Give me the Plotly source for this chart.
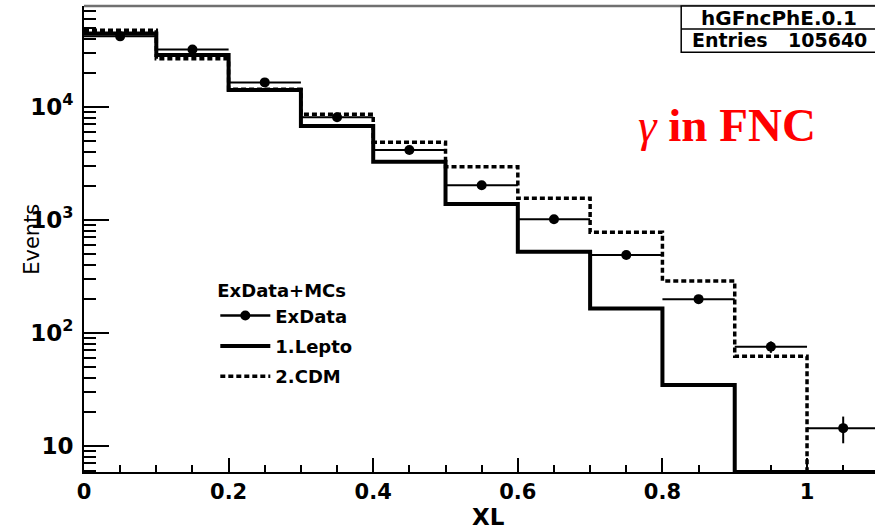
import plotly.graph_objects as go
import math

# ---- data ----
bin_edges = [0.0, 0.1, 0.2, 0.3, 0.4, 0.5, 0.6, 0.7, 0.8, 0.9, 1.0, 1.1]
bin_centers = [0.05, 0.15, 0.25, 0.35, 0.45, 0.55, 0.65, 0.75, 0.85, 0.95, 1.05]
exdata = [41900, 32100, 16400, 8060, 4140, 2015, 1008, 487, 198, 75, 14.3]
exdata_err = [205, 180, 128, 90, 64, 45, 32, 22, 14, 8.7, 3.8]
lepto = [44500, 28700, 14050, 6750, 3260, 1377, 521, 164, 34.4, 0, 0]
cdm = [47500, 26500, 14300, 8570, 4850, 2945, 1545, 774, 287, 62, 0]

legend_title = "ExData+MCs"
names = ["ExData", "1.Lepto", "2.CDM"]
x_tick_vals = [0, 0.2, 0.4, 0.6, 0.8, 1.0]
x_tick_text = ["0", "0.2", "0.4", "0.6", "0.8", "1"]
y_tick_vals = [10, 100, 1000, 10000]
y_tick_text = ["10", "10<sup>2</sup>", "10<sup>3</sup>", "10<sup>4</sup>"]
hist_name = "hGFncPhE.0.1"
entries = "105640"

# ---- axis ranges ----
x_range = [0, 1.094]
y_range = [math.log10(5.85), math.log10(77800)]
y_floor = 10 ** y_range[0]

def step_y(vals):
    v = [val if val > 0 else y_floor for val in vals]
    return v + [v[-1]]

minor_y = [m * 10 ** k for k in range(0, 5) for m in range(2, 10)]

FONT = "DejaVu Sans"
fig = go.Figure()

fig.add_trace(go.Scatter(
    x=bin_edges, y=step_y(lepto), mode="lines", line_shape="hv",
    line=dict(color="black", width=4), name=names[1], legendrank=2, legendgroup="g2",
))
fig.add_trace(go.Scatter(
    x=bin_edges, y=step_y(cdm), mode="lines", line_shape="hv",
    line=dict(color="black", width=3.5, dash="5px,3px"), name=names[2], legendrank=3, legendgroup="g3",
))
fig.add_trace(go.Scatter(
    x=bin_centers, y=exdata, mode="markers",
    marker=dict(color="black", size=10, symbol="circle"),
    error_x=dict(type="constant", value=0.05, width=0, thickness=2, color="black"),
    error_y=dict(type="data", array=exdata_err, width=0, thickness=2, color="black"),
    showlegend=False,
))
fig.add_trace(go.Scatter(
    x=[None], y=[None], mode="lines+markers",
    marker=dict(color="black", size=10), line=dict(color="black", width=2.5),
    name=names[0], legendrank=1, legendgroup="g1",
))

fig.update_layout(
    width=875, height=529,
    margin=dict(l=84, r=0, t=6, b=57),
    paper_bgcolor="white", plot_bgcolor="white",
    font=dict(family=FONT, color="black"),
    showlegend=True,
    legend=dict(
        x=0.166, y=0.425, xanchor="left", yanchor="top",
        bgcolor="rgba(0,0,0,0)", borderwidth=0,
        font=dict(family=FONT, size=18, color="black", weight="bold"),
        title=dict(text="<b>" + legend_title + "</b>", font=dict(family=FONT, size=18)),
        itemwidth=50, tracegroupgap=4, traceorder="grouped",
    ),
    xaxis=dict(
        range=x_range, showgrid=False, zeroline=False,
        showline=True, linecolor="black", linewidth=2,
        ticks="inside", ticklen=14, tickwidth=1.5, tickcolor="black",
        tickmode="array", tickvals=x_tick_vals, ticktext=x_tick_text,
        tickfont=dict(family=FONT, size=21, weight="bold"),
        minor=dict(ticks="inside", ticklen=7, tickwidth=1.5, tickcolor="black", dtick=0.05, showgrid=False),
    ),
    yaxis=dict(
        type="log", range=y_range, showgrid=False, zeroline=False,
        showline=True, linecolor="black", linewidth=2,
        ticks="inside", ticklen=25, tickwidth=1.5, tickcolor="black",
        tickmode="array", tickvals=y_tick_vals, ticktext=y_tick_text,
        tickfont=dict(family=FONT, size=23, weight="bold"),
        ticklabelstandoff=4,
        minor=dict(ticks="inside", ticklen=12, tickwidth=1.5, tickcolor="black",
                   tickmode="array", tickvals=minor_y, showgrid=False),
    ),
    shapes=[
        dict(type="line", xref="paper", yref="paper", x0=0, x1=1, y0=1, y1=1,
             line=dict(color="#707070", width=2.5)),
        dict(type="rect", xref="paper", yref="paper", x0=0.755, x1=1.02, y0=0.901, y1=1.0,
             line=dict(color="black", width=1.5), fillcolor="white"),
        dict(type="line", xref="paper", yref="paper", x0=0.755, x1=1.02, y0=0.9506, y1=0.9506,
             line=dict(color="black", width=1.5)),
    ],
    annotations=[
        dict(text="<b>" + hist_name + "</b>", xref="paper", yref="paper", x=0.879, y=0.975,
             xanchor="center", yanchor="middle", showarrow=False,
             font=dict(family=FONT, size=20, color="black")),
        dict(text="<b>Entries</b>", xref="paper", yref="paper", x=0.766, y=0.926,
             xanchor="left", yanchor="middle", showarrow=False,
             font=dict(family=FONT, size=19, color="black")),
        dict(text="<b>" + entries + "</b>", xref="paper", yref="paper", x=0.992, y=0.926,
             xanchor="right", yanchor="middle", showarrow=False,
             font=dict(family=FONT, size=19, color="black")),
        dict(text="<i>γ</i> <b>in FNC</b>", xref="paper", yref="paper", x=0.813, y=0.745,
             xanchor="center", yanchor="middle", showarrow=False,
             font=dict(family="Liberation Serif", size=47, color="red")),
        dict(text="Events", xref="paper", yref="paper", x=-0.066, y=0.50,
             xanchor="center", yanchor="middle", showarrow=False, textangle=-90,
             font=dict(family=FONT, size=21, color="black")),
        dict(text="<b>XL</b>", xref="paper", yref="paper", x=0.511, y=-0.097,
             xanchor="center", yanchor="middle", showarrow=False,
             font=dict(family=FONT, size=23, color="black")),
    ],
)

fig.write_html("out.html")
